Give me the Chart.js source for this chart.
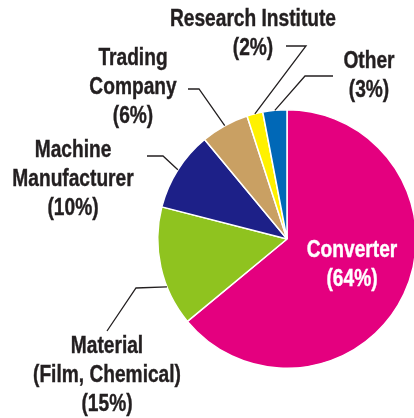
<!DOCTYPE html>
<html>
<head>
<meta charset="utf-8">
<script src="https://cdn.jsdelivr.net/npm/chart.js@4.4.1/dist/chart.umd.min.js"></script>
<style>
  html, body { margin: 0; padding: 0; background: #fff; overflow: hidden; }
  #wrap { width: 430px; height: 418px; }
</style>
</head>
<body>
<div id="wrap"><canvas id="chart" width="430" height="418"></canvas></div>
<script>
// data
const categories = ['Converter', 'Material (Film, Chemical)', 'Machine Manufacturer', 'Trading Company', 'Research Institute', 'Other'];
const shares = [64, 15, 10, 6, 2, 3];
const labelLines = [['Converter'], ['Material', '(Film, Chemical)'], ['Machine', 'Manufacturer'], ['Trading', 'Company'], ['Research Institute'], ['Other']];
const sliceColors = ['#e4007f', '#8fc31f', '#1d2088', '#c9a063', '#fff100', '#0068b7'];

// where each label goes; leader = [elbow, end], anchor taken from the arc
const labelLayout = [
  { x: 352, y: 257, color: '#ffffff' },
  { x: 107, y: 353, t: 0.33, leader: [[136, 288], [107, 331]] },
  { x: 73, y: 157, leader: [[163, 156], [147, 156]] },
  { x: 133, y: 65, leader: [[199, 89], [188, 89]] },
  { x: 253, y: 26, leader: [[306, 46], [286, 46]] },
  { x: 369, y: 68, leader: [[305, 76], [333, 76]] }
];

const TEXT = '#231f20';
const LINE_H = 29;

// condensed bold look: squeeze Liberation Sans horizontally
function condensedText(ctx, text, x, y) {
  ctx.save();
  ctx.translate(x, y);
  ctx.scale(0.815, 1);
  ctx.fillText(text, 0, 0);
  ctx.strokeText(text, 0, 0);
  ctx.restore();
}

const calloutPlugin = {
  id: 'callouts',
  afterDraw(chart) {
    const ctx = chart.ctx;
    const arcs = chart.getDatasetMeta(0).data;
    ctx.save();
    arcs.forEach((arc, i) => {
      const lay = labelLayout[i];
      if (lay.leader) {
        const p = arc.getProps(['x', 'y', 'startAngle', 'endAngle', 'outerRadius'], true);
        const t = lay.t !== undefined ? lay.t : 0.5;
        const a = p.startAngle + t * (p.endAngle - p.startAngle);
        ctx.beginPath();
        ctx.moveTo(p.x + Math.cos(a) * p.outerRadius, p.y + Math.sin(a) * p.outerRadius);
        lay.leader.forEach(pt => ctx.lineTo(pt[0], pt[1]));
        ctx.strokeStyle = TEXT;
        ctx.lineWidth = 1.3;
        ctx.stroke();
      }
      const lines = labelLines[i].concat(['(' + shares[i] + '%)']);
      ctx.font = 'bold 23.5px "Liberation Sans", Arial, sans-serif';
      ctx.fillStyle = lay.color || TEXT;
      ctx.strokeStyle = lay.color || TEXT;
      ctx.lineWidth = 0.4;
      ctx.textAlign = 'center';
      ctx.textBaseline = 'alphabetic';
      lines.forEach((ln, k) => condensedText(ctx, ln, lay.x, lay.y + k * LINE_H));
    });
    ctx.restore();
  }
};

new Chart(document.getElementById('chart'), {
  type: 'pie',
  data: {
    labels: categories,
    datasets: [{
      data: shares,
      backgroundColor: sliceColors,
      borderColor: '#ffffff',
      borderWidth: 1.5
    }]
  },
  options: {
    responsive: false,
    animation: false,
    layout: { padding: { left: 157, right: 13, top: 109, bottom: 49 } },
    plugins: {
      legend: { display: false },
      tooltip: { enabled: false }
    }
  },
  plugins: [calloutPlugin]
});
</script>
</body>
</html>
